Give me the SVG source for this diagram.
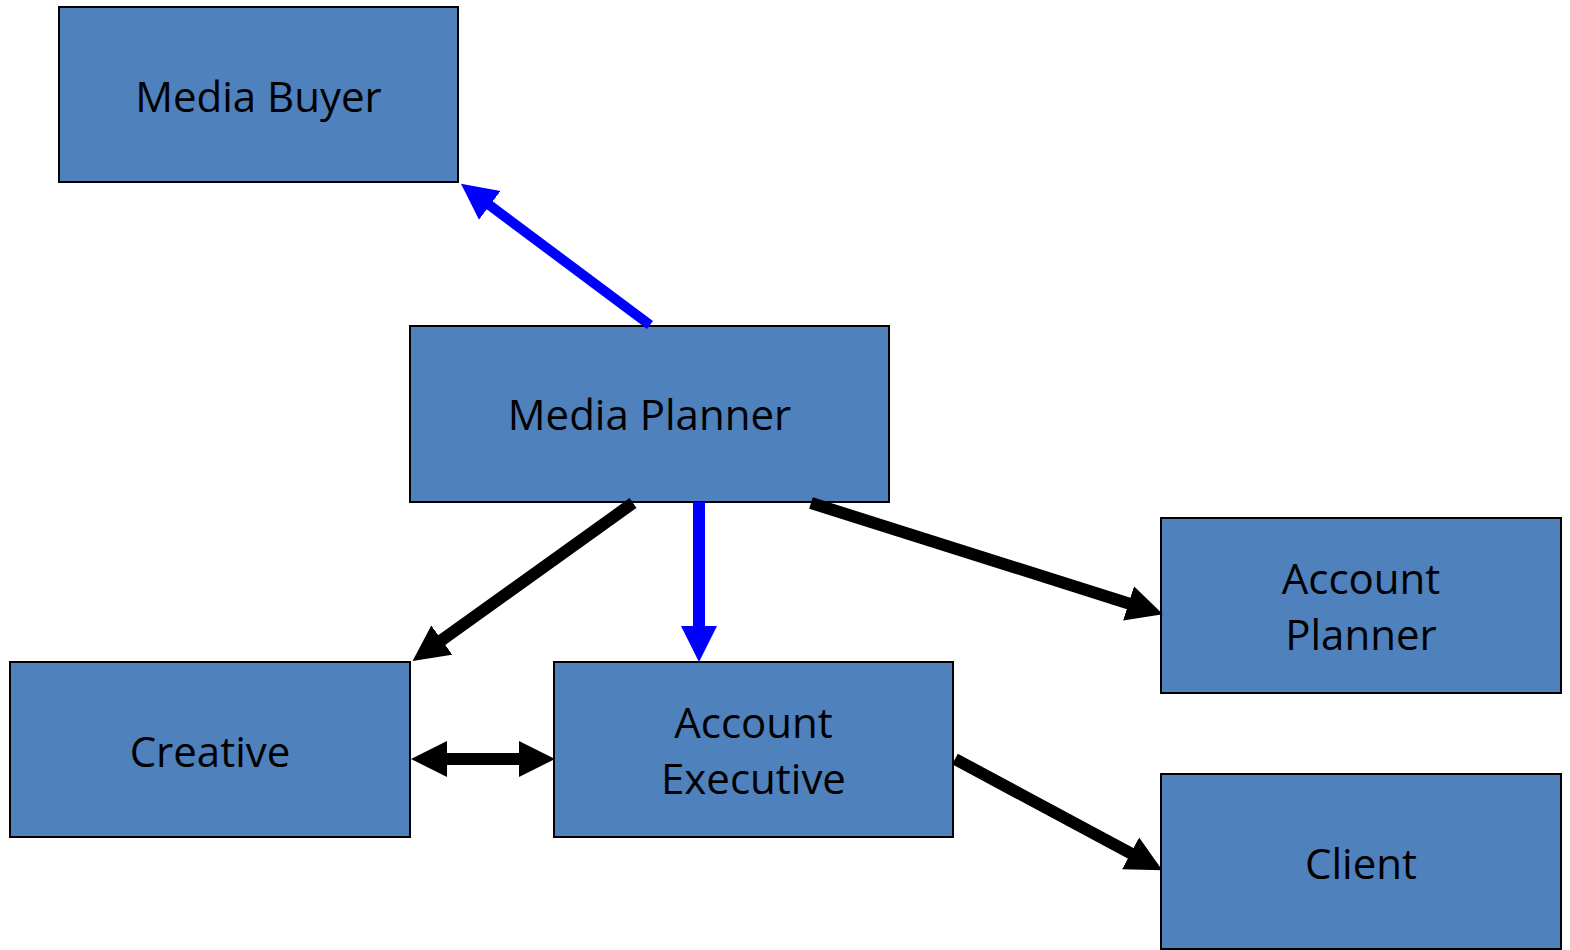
<svg xmlns="http://www.w3.org/2000/svg" width="1570" height="950" viewBox="0 0 1570 950">
<style>
.box{fill:#4F81BD;stroke:#000;stroke-width:2}
.lbl{font-family:"Open Sans","Liberation Sans",sans-serif;font-size:42px;fill:#000;text-anchor:middle}
.blk{stroke:#000;stroke-width:12;fill:none}
.blu{stroke:#0000FF;fill:none}
</style>
<defs>
<marker id="hb" markerUnits="userSpaceOnUse" markerWidth="37" markerHeight="37" refX="1" refY="18" orient="auto-start-reverse" viewBox="0 0 37 36">
<path d="M0,0 L36,18 L0,36 z" fill="#000"/>
</marker>
<marker id="hu" markerUnits="userSpaceOnUse" markerWidth="37" markerHeight="37" refX="1" refY="18" orient="auto" viewBox="0 0 37 36">
<path d="M0,0 L36,18 L0,36 z" fill="#0000FF"/>
</marker>
</defs>
<rect width="1570" height="950" fill="#fff"/>
<g id="media-buyer"><rect class="box" x="59" y="7" width="399" height="175"/><text class="lbl" x="258.5" y="112">Media Buyer</text></g>
<g id="media-planner"><rect class="box" x="410" y="326" width="479" height="176"/><text class="lbl" x="649.5" y="430">Media Planner</text></g>
<g id="creative"><rect class="box" x="10" y="662" width="400" height="175"/><text class="lbl" x="210" y="767">Creative</text></g>
<g id="account-executive"><rect class="box" x="554" y="662" width="399" height="175"/><text class="lbl" x="753.5" y="738">Account</text><text class="lbl" x="753.5" y="794">Executive</text></g>
<g id="account-planner"><rect class="box" x="1161" y="518" width="400" height="175"/><text class="lbl" x="1361" y="594">Account</text><text class="lbl" x="1361" y="650">Planner</text></g>
<g id="client"><rect class="box" x="1161" y="774" width="400" height="175"/><text class="lbl" x="1361" y="879">Client</text></g>
<g id="connectors">
<line class="blu" stroke-width="10" x1="650" y1="325" x2="489" y2="204.8" marker-end="url(#hu)"/>
<line class="blu" stroke-width="12" x1="699" y1="502" x2="699" y2="627" marker-end="url(#hu)"/>
<line class="blk" x1="633" y1="503" x2="441" y2="640.7" marker-end="url(#hb)"/>
<line class="blk" x1="811" y1="503" x2="1129.5" y2="603.7" marker-end="url(#hb)"/>
<line class="blk" x1="446" y1="759" x2="520" y2="759" marker-start="url(#hb)" marker-end="url(#hb)"/>
<line class="blk" x1="955" y1="759" x2="1131.5" y2="853.8" marker-end="url(#hb)"/>
</g>
</svg>
